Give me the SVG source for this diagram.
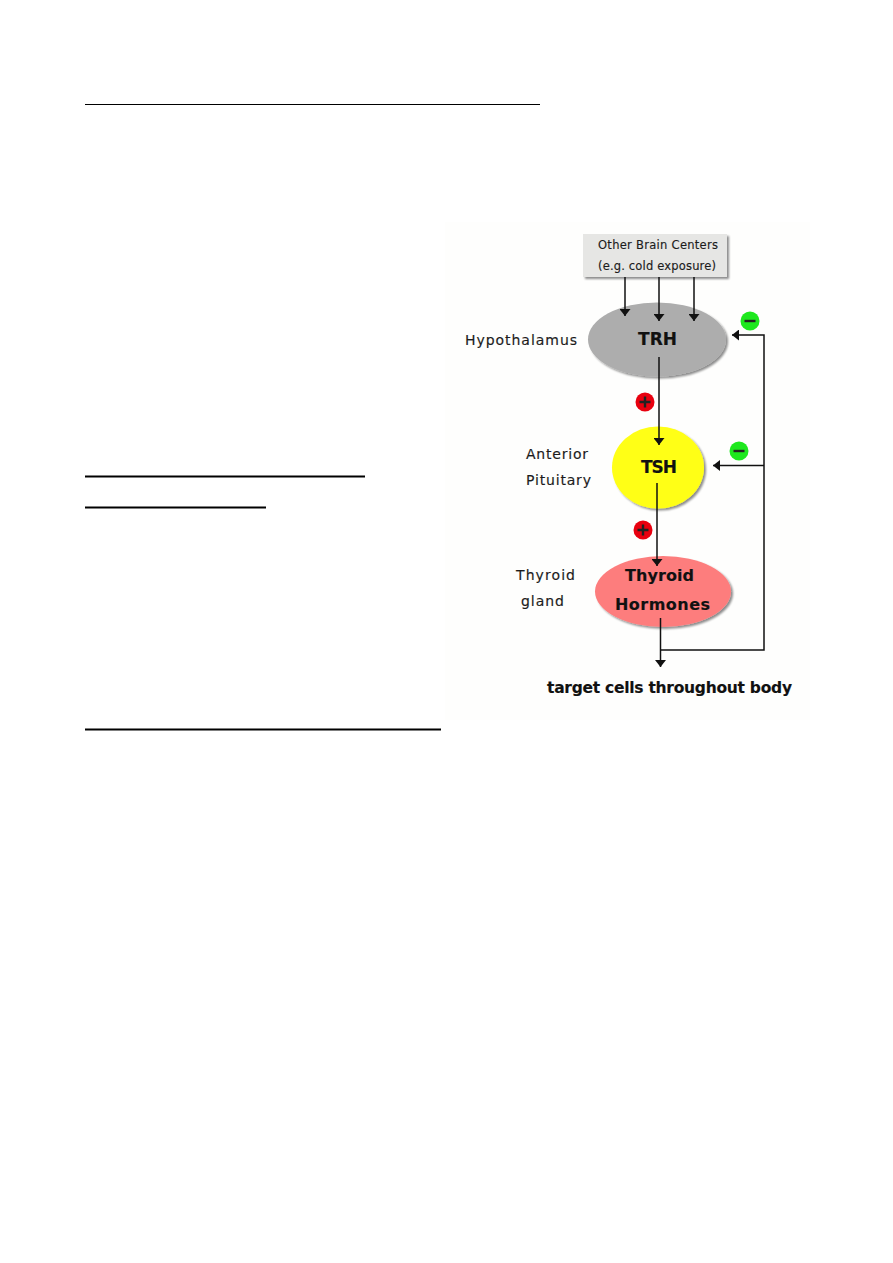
<svg xmlns="http://www.w3.org/2000/svg" width="893" height="1263" viewBox="0 0 893 1263">
<style>
text{font-family:"DejaVu Sans","Liberation Sans",sans-serif;fill:#1c1c1c;text-anchor:start;stroke:#1c1c1c;stroke-width:.15}
.s{font-size:11.5px}
.m{font-size:14px}
.b{font-weight:bold;fill:#111}
.rule{stroke:#000;fill:none}
.c{stroke:#111;stroke-width:1.5;fill:none}
.sign{stroke:#222;stroke-width:2.4;fill:none}
</style>
<defs>
<filter id="sh" x="-15%" y="-15%" width="135%" height="135%"><feGaussianBlur in="SourceAlpha" stdDeviation="1.2"/><feOffset dx="1.500" dy="1.500"/><feComponentTransfer><feFuncA type="linear" slope=".45"/></feComponentTransfer><feMerge><feMergeNode/><feMergeNode in="SourceGraphic"/></feMerge></filter>
<marker id="ah" viewBox="0 0 7 11" refX="7" refY="5.500" markerWidth="7" markerHeight="11" markerUnits="userSpaceOnUse" orient="auto"><path d="M0 0L7 5.500L0 11Z" fill="#111"/></marker>
</defs>
<rect width="893" height="1263" fill="#fff"/>
<rect x="445" y="222" width="365" height="498" fill="#fefefd"/>
<g id="rules">
<line class="rule" x1="85" y1="104.500" x2="540" y2="104.500" stroke-width="1"/>
<line class="rule" x1="85" y1="476.500" x2="365" y2="476.500" stroke-width="2"/>
<line class="rule" x1="85" y1="507.500" x2="266" y2="507.500" stroke-width="2"/>
<line class="rule" x1="85" y1="729.500" x2="441" y2="729.500" stroke-width="2"/>
</g>
<g id="brain-centers">
<rect x="583" y="234" width="144" height="43" fill="#e6e6e4" filter="url(#sh)"/>
<text class="s" x="598" y="249" textLength="120">Other Brain Centers</text>
<text class="s" x="598" y="270" textLength="118">(e.g. cold exposure)</text>
</g>
<g id="hypothalamus">
<ellipse cx="657" cy="339.500" rx="69" ry="37" fill="#adadad" filter="url(#sh)"/>
<text class="m b" x="638" y="345" textLength="39" style="font-size:17px">TRH</text>
<text class="m" x="465" y="345" textLength="112">Hypothalamus</text>
</g>
<g id="pituitary">
<ellipse cx="658" cy="467.500" rx="46" ry="41" fill="#ffff14" filter="url(#sh)"/>
<text class="m b" x="641" y="473" textLength="36" style="font-size:17px">TSH</text>
<text class="m" x="526" y="459" textLength="62">Anterior</text>
<text class="m" x="526" y="485" textLength="65">Pituitary</text>
</g>
<g id="thyroid">
<ellipse cx="663" cy="591.500" rx="68" ry="35.500" fill="#fd7d7d" filter="url(#sh)"/>
<text class="m b" x="625" y="581" textLength="69" style="font-size:16px">Thyroid</text>
<text class="m b" x="615" y="610" textLength="95" style="font-size:16px">Hormones</text>
<text class="m" x="516" y="580" textLength="59">Thyroid</text>
<text class="m" x="521" y="606" textLength="43">gland</text>
</g>
<g id="target">
<text class="m b" x="547" y="693" textLength="245" style="font-size:15.500px">target cells throughout body</text>
</g>
<g id="signs">
<circle cx="645" cy="402" r="9.500" fill="#e8000f"/><path class="sign" d="M639.500 402H650.500M645 396.500V407.500"/>
<circle cx="643" cy="530" r="9.500" fill="#e8000f"/><path class="sign" d="M637.500 530H648.500M643 524.500V535.500"/>
<circle cx="750" cy="321" r="9.500" fill="#1ee81e"/><path class="sign" d="M744.500 321H755.500"/>
<circle cx="739" cy="451" r="9.500" fill="#1ee81e"/><path class="sign" d="M733.500 451H744.500"/>
</g>
<g id="connectors">
<line class="c" x1="625" y1="277" x2="625" y2="316" marker-end="url(#ah)"/>
<line class="c" x1="659" y1="277" x2="659" y2="321" marker-end="url(#ah)"/>
<line class="c" x1="694" y1="277" x2="694" y2="321" marker-end="url(#ah)"/>
<line class="c" x1="659" y1="357" x2="659" y2="445" marker-end="url(#ah)"/>
<line class="c" x1="657" y1="483" x2="657" y2="566" marker-end="url(#ah)"/>
<line class="c" x1="660.500" y1="618" x2="660.500" y2="667" marker-end="url(#ah)"/>
<path class="c" d="M660.500 650H764V335H732" marker-end="url(#ah)"/>
<line class="c" x1="764" y1="465.500" x2="713" y2="465.500" marker-end="url(#ah)"/>
</g>
</svg>
